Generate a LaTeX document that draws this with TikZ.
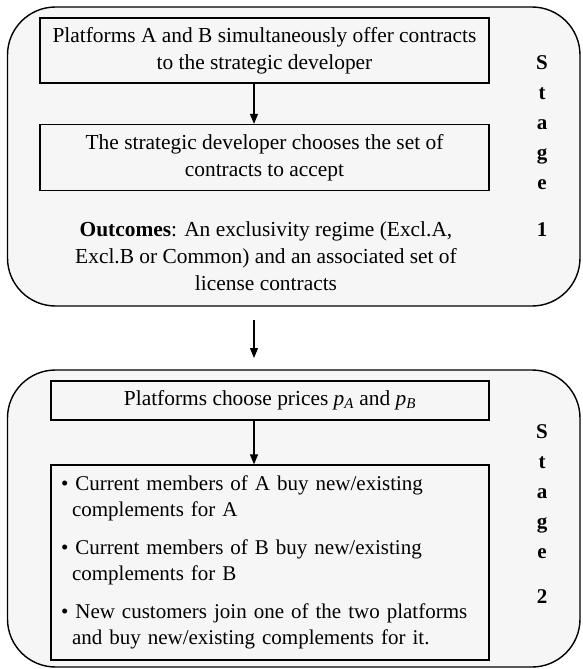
\documentclass[tikz,border=0pt]{standalone}
\usepackage{fontspec}
\setmainfont{Liberation Serif}
\usetikzlibrary{arrows.meta}
\definecolor{stagefill}{RGB}{246,246,246}
\begin{document}
\begin{tikzpicture}[x=1pt,y=-1pt,
  txt/.style={font=\fontsize{21.4}{27}\selectfont},
  stagebox/.style={draw, line width=1.4pt, fill=stagefill, rounded corners=48pt},
  innerbox/.style={draw, line width=1.3pt, fill=stagefill, inner sep=0pt, txt, align=center},
  letters/.style={font=\fontsize{21}{30}\selectfont\bfseries, align=center, inner sep=0pt},
  arr/.style={-{Triangle[length=10pt,width=8pt]}, line width=1.1pt}]
\useasboundingbox (0,0) rectangle (582,669);
% stage frames
\draw[stagebox] (7.5,7) rectangle (580,306);
\draw[stagebox] (7.5,370) rectangle (580,667);
\coordinate (s1s) at (254,306);
\coordinate (s2n) at (254,370);
% stage 1
\node[innerbox, minimum width=449pt, minimum height=65pt] (b1) at (264.5,50.5)
  {Platforms A and B simultaneously offer contracts\\to the strategic developer};
\node[innerbox, minimum width=449pt, minimum height=66pt] (b2) at (264.5,157.5)
  {The strategic developer chooses the set of\\contracts to accept};
\node[txt, align=center, inner sep=0pt] (out) at (266,256)
  {\textbf{Outcomes}: An exclusivity regime (Excl.A,\\Excl.B or Common) and an associated set of\\license contracts};
\node[letters] (st1) at (542,146) {S\\t\\a\\g\\e\\[17pt]1};
% stage 2
\node[innerbox, minimum width=438pt, minimum height=39pt] (b3) at (270,400.5)
  {Platforms choose prices \textit{p}\textsubscript{\textit{A}} and \textit{p}\textsubscript{\textit{B}}};
\node[innerbox, minimum width=438pt, minimum height=195pt, text width=418pt, align=left,
      font=\fontsize{21}{26}\selectfont] (b4) at (270,562.5)
  {\textbullet\ Current members of A buy new/existing\\\hspace*{11pt}complements for A\\[12pt]
   \textbullet\ Current members of B buy new/existing\\\hspace*{11pt}complements for B\\[12pt]
   \textbullet\ New customers join one of the two platforms\\\hspace*{11pt}and buy new/existing complements for it.};
\node[letters] (st2) at (542,514) {S\\t\\a\\g\\e\\[15pt]2};
% arrows
\draw[arr] (b1.south -| s1s) -- (b2.north -| s1s);
\draw[arr, shorten <=14pt, shorten >=12pt] (s1s) -- (s2n);
\draw[arr] (b3.south -| s1s) -- (b4.north -| s1s);
\end{tikzpicture}
\end{document}
